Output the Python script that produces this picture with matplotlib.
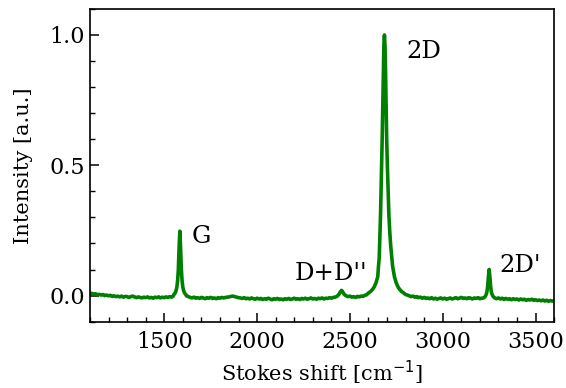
import numpy as np
import matplotlib.pyplot as plt

# Raman spectrum of graphene, normalised to the 2D peak
shift_base1 = [1100, 1110, 1120, 1130, 1140, 1150, 1160, 1170, 1180, 1190,
               1200, 1210, 1220, 1230, 1240, 1250, 1260, 1270, 1280, 1290,
               1300, 1310, 1320, 1330, 1340, 1350, 1360, 1370, 1380, 1390,
               1400, 1410, 1420, 1430, 1440, 1450, 1460, 1470, 1480, 1490,
               1500, 1510, 1520, 1530, 1540, 1548]
int_base1 = [0.010, 0.008, 0.006, 0.007, 0.003, 0.005, 0.002, 0.004, 0.000, 0.002,
             -0.001, 0.001, -0.003, -0.001, -0.004, -0.002, -0.005, -0.002, -0.006, -0.003,
             -0.004, -0.007, -0.004, -0.002, -0.005, -0.008, -0.005, -0.007, -0.009, -0.006,
             -0.008, -0.005, -0.009, -0.007, -0.010, -0.006, -0.008, -0.005, -0.009, -0.006,
             -0.008, -0.005, -0.007, -0.004, -0.006, -0.002]

# G band
shift_g = [1552, 1556, 1560, 1564, 1568, 1572, 1576, 1580, 1584, 1588,
           1592, 1596, 1600, 1604, 1608, 1612, 1616]
int_g = [0.004, 0.007, 0.012, 0.020, 0.033, 0.057, 0.102, 0.184, 0.247, 0.184,
         0.102, 0.057, 0.033, 0.020, 0.012, 0.007, 0.004]

shift_base2 = [1620, 1630, 1640, 1650, 1660, 1670, 1680, 1690, 1700, 1710,
               1720, 1730, 1740, 1750, 1760, 1770, 1780, 1790, 1800, 1810,
               1820, 1830, 1840, 1850, 1860, 1870, 1880, 1890, 1900, 1910,
               1920, 1930, 1940, 1950, 1960, 1970, 1980, 1990, 2000, 2010,
               2020, 2030, 2040, 2050, 2060, 2070, 2080, 2090, 2100, 2110,
               2120, 2130, 2140, 2150, 2160, 2170, 2180, 2190, 2200, 2210,
               2220, 2230, 2240, 2250, 2260, 2270, 2280, 2290, 2300, 2310,
               2320, 2330, 2340, 2350, 2360, 2370, 2380, 2390, 2400, 2410,
               2420, 2430]
int_base2 = [-0.001, -0.004, -0.007, -0.009, -0.006, -0.010, -0.008, -0.011, -0.007, -0.009,
             -0.012, -0.008, -0.010, -0.007, -0.011, -0.009, -0.012, -0.008, -0.010, -0.007,
             -0.009, -0.007, -0.006, -0.005, -0.003, -0.002, -0.004, -0.006, -0.008, -0.009,
             -0.011, -0.008, -0.012, -0.010, -0.013, -0.009, -0.012, -0.014, -0.010, -0.013,
             -0.011, -0.015, -0.012, -0.014, -0.010, -0.013, -0.016, -0.012, -0.014, -0.011,
             -0.015, -0.013, -0.016, -0.012, -0.014, -0.011, -0.015, -0.013, -0.010, -0.014,
             -0.012, -0.015, -0.011, -0.013, -0.010, -0.014, -0.012, -0.009, -0.013, -0.011,
             -0.014, -0.010, -0.012, -0.009, -0.013, -0.010, -0.011, -0.008, -0.010, -0.007,
             -0.006, -0.003]

# D+D'' combination band
shift_ddd = [2440, 2445, 2450, 2455, 2460, 2465, 2470, 2480, 2490]
int_ddd = [0.004, 0.010, 0.016, 0.020, 0.016, 0.010, 0.004, -0.001, -0.004]

shift_base3 = [2500, 2510, 2520, 2530, 2540, 2550, 2560, 2570, 2580, 2590]
int_base3 = [-0.002, -0.006, -0.004, -0.007, -0.003, -0.005, -0.002, -0.003, 0.001, 0.003]

# 2D band
shift_2d = [2600, 2610, 2620, 2630, 2640, 2645, 2650, 2654, 2658, 2662,
            2665, 2668, 2671, 2674, 2677, 2680, 2683, 2686, 2689, 2692,
            2695, 2698, 2702, 2706, 2710, 2715, 2720, 2730, 2740, 2750,
            2760, 2770, 2780, 2790, 2800]
int_2d = [0.010, 0.015, 0.022, 0.032, 0.048, 0.060, 0.072, 0.113, 0.145, 0.241,
          0.309, 0.403, 0.494, 0.605, 0.732, 0.860, 0.961, 1.000, 0.961, 0.860,
          0.732, 0.605, 0.494, 0.403, 0.309, 0.241, 0.190, 0.113, 0.072, 0.048,
          0.032, 0.022, 0.015, 0.010, 0.004]

shift_base4 = [2810, 2820, 2830, 2840, 2850, 2860, 2870, 2880, 2890, 2900,
               2910, 2920, 2930, 2940, 2950, 2960, 2970, 2980, 2990, 3000,
               3010, 3020, 3030, 3040, 3050, 3060, 3070, 3080, 3090, 3100,
               3110, 3120, 3130, 3140, 3150, 3160, 3170, 3180, 3190, 3200,
               3210, 3220, 3226]
int_base4 = [0.002, -0.001, -0.004, -0.002, -0.006, -0.004, -0.008, -0.006, -0.010, -0.007,
             -0.011, -0.009, -0.012, -0.008, -0.013, -0.010, -0.014, -0.011, -0.009, -0.013,
             -0.010, -0.014, -0.012, -0.009, -0.013, -0.011, -0.008, -0.012, -0.010, -0.007,
             -0.011, -0.009, -0.012, -0.008, -0.010, -0.013, -0.009, -0.011, -0.008, -0.012,
             -0.010, -0.009, -0.006]

# 2D' band
shift_2dp = [3230, 3234, 3238, 3242, 3246, 3250, 3254, 3258, 3262, 3266, 3270, 3278]
int_2dp = [-0.002, 0.004, 0.014, 0.035, 0.072, 0.100, 0.072, 0.035, 0.014, 0.004, -0.002, -0.008]

shift_base5 = [3290, 3300, 3310, 3320, 3330, 3340, 3350, 3360, 3370, 3380,
               3390, 3400, 3410, 3420, 3430, 3440, 3450, 3460, 3470, 3480,
               3490, 3500, 3510, 3520, 3530, 3540, 3550, 3560, 3570, 3580,
               3590, 3600]
int_base5 = [-0.012, -0.009, -0.013, -0.010, -0.015, -0.011, -0.014, -0.012, -0.016, -0.012,
             -0.015, -0.013, -0.017, -0.013, -0.016, -0.014, -0.018, -0.015, -0.017, -0.014,
             -0.018, -0.016, -0.019, -0.017, -0.020, -0.017, -0.021, -0.018, -0.022, -0.019,
             -0.021, -0.020]

shift = np.concatenate([shift_base1, shift_g, shift_base2, shift_ddd, shift_base3,
                        shift_2d, shift_base4, shift_2dp, shift_base5])
intensity = np.concatenate([int_base1, int_g, int_base2, int_ddd, int_base3,
                            int_2d, int_base4, int_2dp, int_base5])

peak_labels = ['G', "D+D''", '2D', "2D'"]
label_x = [1650, 2200, 2805, 3305]
label_y = [0.200, 0.058, 0.910, 0.092]

plt.rcParams['font.family'] = 'DejaVu Serif'

fig = plt.figure(figsize=(5.66, 3.88), dpi=100)
ax = fig.add_axes([0.159, 0.171, 0.820, 0.806])

ax.plot(shift, intensity, color='green', lw=2.6)

for lab, lx, ly in zip(peak_labels, label_x, label_y):
    ax.text(lx, ly, lab, fontsize=17.5, ha='left', va='baseline')

ax.set_xlim(1100, 3600)
ax.set_ylim(-0.1, 1.1)
ax.set_xticks([1500, 2000, 2500, 3000, 3500])
ax.set_yticks([0.0, 0.5, 1.0])
ax.minorticks_on()
ax.tick_params(which='both', direction='in', top=False, right=False, labelsize=16)
ax.tick_params(which='major', length=6.5, width=1.1)
ax.tick_params(which='minor', length=3.5, width=1.0)
ax.tick_params(axis='x', which='major', pad=7)
for sp in ax.spines.values():
    sp.set_linewidth(1.2)

ax.set_xlabel('Stokes shift [cm$^{-1}$]', fontsize=15)
ax.set_ylabel('Intensity [a.u.]', fontsize=15, labelpad=12)

fig.savefig('out.png', dpi=100)
